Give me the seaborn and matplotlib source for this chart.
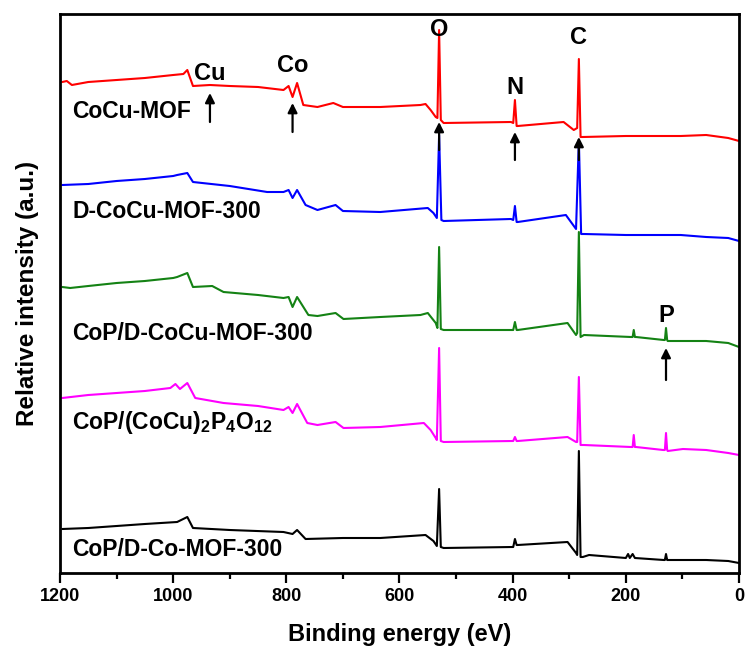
import seaborn as sns
import pandas as pd
from matplotlib import pyplot as plt

# binding energy (eV) and relative intensity (a.u., offset stacked)
red_ev = [1196, 1188, 1179, 1150, 1100, 1050, 1000, 982, 975, 965, 935, 900, 850, 805, 796, 789, 781,
          770, 745, 717, 700, 634, 563, 554, 545, 536, 533, 530, 527, 522, 403, 399, 396, 393,
          391, 310, 292, 286, 283, 280, 276, 200, 103, 58, 19, 0]
red_int = [493, 494, 490, 493, 495, 497, 500, 501, 505, 489, 490, 489, 488, 485, 489, 478, 492,
           470, 468, 472, 468, 468, 470, 471, 465, 458, 457, 545, 455, 452, 453, 452, 475, 449,
           449, 453, 445, 447, 516, 438, 438, 439, 439, 440, 437, 434]

blue_ev = [1196, 1150, 1100, 1050, 1000, 993, 975, 965, 900, 834, 805, 796, 789, 781, 766, 745,
           713, 700, 634, 550, 540, 534, 530, 526, 522, 403, 399, 396, 393, 391, 306, 288, 283,
           279, 274, 200, 103, 58, 19, 0]
blue_int = [390, 391, 394, 396, 399, 400, 402, 393, 389, 383, 383, 385, 377, 385, 370, 365,
            370, 364, 363, 367, 362, 357, 440, 355, 354, 356, 355, 369, 353, 353, 360, 346, 435,
            341, 341, 340, 340, 338, 337, 334]

green_ev = [1196, 1182, 1150, 1100, 1050, 1000, 993, 975, 965, 931, 911, 850, 805, 796, 789,
            781, 761, 745, 713, 699, 634, 563, 550, 536, 533, 530, 527, 522, 400, 399, 396, 393,
            391, 303, 288, 286, 283, 280, 274, 191, 188, 186, 184, 182, 133, 131, 129, 127, 126,
            100, 58, 19, 0]
green_int = [288, 287, 289, 292, 294, 297, 298, 302, 288, 289, 283, 280, 277, 278, 268,
             278, 260, 259, 262, 256, 258, 260, 262, 252, 247, 328, 246, 245, 245, 245, 253, 245,
             245, 252, 240, 242, 343, 238, 240, 238, 238, 245, 238, 238, 235, 235, 247, 235, 234,
             234, 234, 232, 228]

magenta_ev = [1196, 1150, 1100, 1050, 1005, 996, 988, 975, 961, 911, 850, 805, 796, 789, 781,
              763, 745, 713, 699, 634, 557, 545, 536, 534, 530, 527, 522, 400, 399, 396, 393, 391,
              303, 288, 286, 283, 280, 274, 191, 188, 186, 184, 182, 134, 131, 129, 127, 126, 99,
              58, 19, 0]
magenta_int = [177, 180, 182, 184, 187, 191, 186, 192, 177, 172, 169, 165, 168, 162, 171,
               152, 150, 153, 147, 148, 152, 145, 137, 135, 227, 134, 133, 134, 134, 138, 134, 134,
               138, 133, 133, 198, 130, 130, 128, 128, 140, 128, 128, 125, 125, 142, 125, 124, 126,
               125, 122, 120]

black_ev = [1196, 1150, 1100, 1050, 993, 975, 965, 900, 805, 789, 781, 766, 700, 634, 554, 540,
            534, 530, 527, 522, 400, 399, 396, 393, 391, 303, 288, 286, 283, 280, 276, 265, 200,
            196, 193, 188, 184, 133, 131, 129, 127, 126, 58, 19, 0]
black_int = [46, 47, 49, 51, 53, 58, 47, 45, 43, 41, 45, 36, 37, 37, 40, 34,
             29, 86, 28, 27, 28, 28, 36, 30, 30, 33, 22, 20, 124, 18, 18, 20, 17,
             21, 17, 21, 17, 15, 15, 21, 15, 15, 15, 14, 12]

curves = [
    ('CoCu-MOF', red_ev, red_int, '#ff0000'),
    ('D-CoCu-MOF-300', blue_ev, blue_int, '#0000ff'),
    ('CoP/D-CoCu-MOF-300', green_ev, green_int, '#148214'),
    ('CoP/(CoCu)2P4O12', magenta_ev, magenta_int, '#ff00ff'),
    ('CoP/D-Co-MOF-300', black_ev, black_int, '#000000'),
]

sample_labels = ['CoCu-MOF', 'D-CoCu-MOF-300', 'CoP/D-CoCu-MOF-300',
                 r'CoP/(CoCu)$_{\mathbf{2}}$P$_{\mathbf{4}}$O$_{\mathbf{12}}$', 'CoP/D-Co-MOF-300']
sample_label_y = [464, 363, 242, 152, 25]

# element markers: label, energy, label height, arrow tail, arrow head
elements = ['Cu', 'Co', 'O', 'N', 'C', 'P']
element_ev = [935, 789, 530, 396, 283, 129]
element_text_y = [502, 510, 545, 488, 537, 260]
arrow_tail = [453, 443, 425, 415, 415, 195]
arrow_head = [482, 472, 453, 443, 438, 227]

sns.set_style('ticks')
plt.rcParams['font.family'] = ['Liberation Sans', 'DejaVu Sans']
plt.rcParams['font.weight'] = 'bold'
plt.rcParams['text.color'] = 'black'
plt.rcParams['mathtext.fontset'] = 'custom'
plt.rcParams['mathtext.rm'] = 'Liberation Sans:bold'
plt.rcParams['mathtext.bf'] = 'Liberation Sans:bold'

fig = plt.figure(figsize=(7.47, 6.55), dpi=100)
ax = fig.add_axes([60 / 747, 1 - 573 / 655, 679 / 747, 559 / 655])

for name, ev, inten, color in curves:
    df = pd.DataFrame({'ev': ev, 'int': inten})
    sns.lineplot(data=df, x='ev', y='int', color=color, linewidth=1.5,
                 sort=False, estimator=None, ax=ax)

for lab, y in zip(sample_labels, sample_label_y):
    ax.text(1178, y, lab, fontsize=16.5, fontweight='bold', va='center', ha='left',
            color='black')

for el, x, ty, t0, t1 in zip(elements, element_ev, element_text_y, arrow_tail, arrow_head):
    ax.text(x, ty, el, fontsize=17, fontweight='bold', ha='center', va='center',
            color='black')
    ax.annotate('', xy=(x, t1), xytext=(x, t0),
                arrowprops=dict(arrowstyle='-|>', color='black', lw=1.6,
                                mutation_scale=14, shrinkA=0, shrinkB=0))

ax.set_xlim(1200, 0)
ax.set_ylim(2, 561)
ax.set_xticks([1200, 1000, 800, 600, 400, 200, 0])
ax.set_xticks([1100, 900, 700, 500, 300, 100], minor=True)
ax.set_yticks([])
ax.tick_params(axis='x', which='major', direction='out', length=7, width=1.6,
               labelsize=13, pad=4, colors='black')
ax.tick_params(axis='x', which='minor', direction='out', length=4, width=1.6, colors='black')
for lbl in ax.get_xticklabels():
    lbl.set_fontweight('bold')
for s in ax.spines.values():
    s.set_linewidth(2.0)
    s.set_color('black')
ax.set_xlabel('Binding energy (eV)', fontsize=17, fontweight='bold', labelpad=13,
              color='black')
ax.set_ylabel('Relative intensity (a.u.)', fontsize=17.5, fontweight='bold', labelpad=15,
              color='black')

plt.savefig('out.png', dpi=100)
